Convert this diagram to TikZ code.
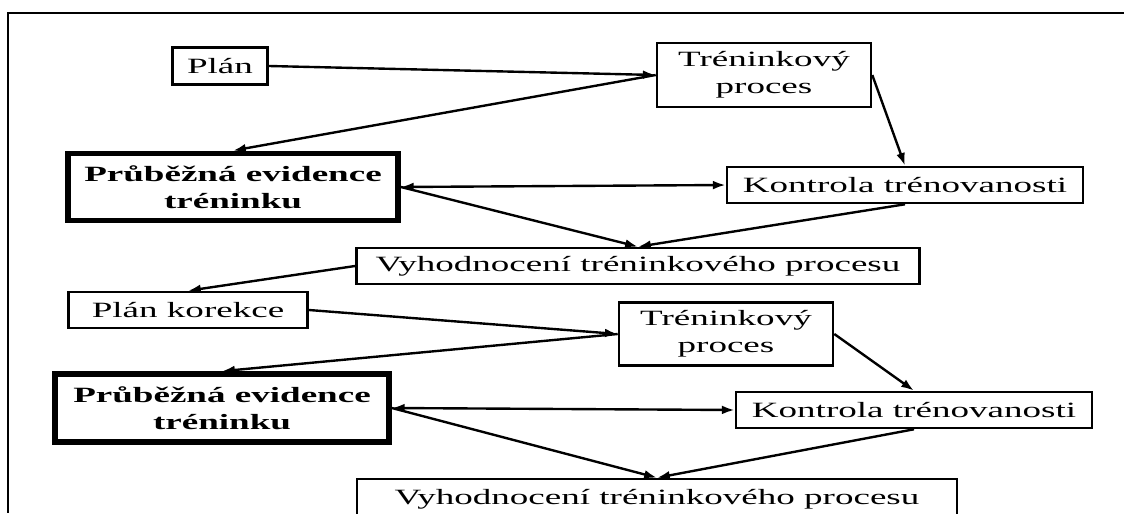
\documentclass[tikz,border=0pt]{standalone}
\usepackage{fontspec}
\setmainfont[FakeStretch=1.7]{Liberation Serif}
\usetikzlibrary{arrows.meta}

\begin{document}
\begin{tikzpicture}[x=0.025cm, y=-0.025cm,
  box/.style={draw, line width=1.8pt, fill=white, align=center, inner sep=2pt, font=\fontsize{15.5}{19}\selectfont},
  evbox/.style={box, line width=4pt, font=\fontsize{15.5}{19}\selectfont\bfseries},
  arr/.style={line width=1.7pt, -{Latex[length=0.32cm, width=0.22cm]}},
  dblarr/.style={line width=1.7pt, {Latex[length=0.32cm, width=0.22cm]}-{Latex[length=0.32cm, width=0.22cm]}}]
  \fill[white] (0,0) rectangle (1124,513);
  \useasboundingbox (0,0) rectangle (1124,513);
  \draw[line width=1.6pt] (1124,13) -- (8,13) -- (8,513);

  \node[box, minimum width=2.38cm, minimum height=0.93cm] (plan) at (220,66) {Plán};
  \node[box, minimum width=5.35cm, minimum height=1.6cm] (tp1) at (764,75) {Tréninkový\\proces};
  \node[evbox, minimum width=8.25cm, minimum height=1.68cm] (pe1) at (233,187) {Průběžná evidence\\tréninku};
  \node[box, minimum width=8.9cm, minimum height=0.9cm] (kt1) at (905,185) {Kontrola trénovanosti};
  \node[box, minimum width=14.08cm, minimum height=0.9cm] (vh1) at (638,266) {Vyhodnocení tréninkového procesu};

  \node[box, minimum width=5.98cm, minimum height=0.9cm] (pk) at (188,310) {Plán korekce};
  \node[box, minimum width=5.35cm, minimum height=1.58cm] (tp2) at (726,334) {Tréninkový\\proces};
  \node[evbox, minimum width=8.35cm, minimum height=1.7cm] (pe2) at (222,408) {Průběžná evidence\\tréninku};
  \node[box, minimum width=8.9cm, minimum height=0.9cm] (kt2) at (914,410) {Kontrola trénovanosti};
  \node[box, minimum width=15cm, minimum height=1cm] (vh2) at (657,499) {Vyhodnocení tréninkového procesu};

  \draw[arr] (plan.east) -- (tp1.west);
  \draw[arr] (tp1.west) -- (pe1.north);
  \draw[arr] (tp1.east) -- (kt1.north);
  \draw[dblarr] (pe1.east) -- (kt1.west);
  \draw[arr] (pe1.east) -- (vh1.north);
  \draw[arr] (kt1.south) -- (vh1.north);
  \draw[arr] (vh1.west) -- (pk.north);
  \draw[arr] (pk.east) -- (tp2.west);
  \draw[arr] (tp2.west) -- (pe2.north);
  \draw[arr] (tp2.east) -- (kt2.north);
  \draw[dblarr] (pe2.east) -- (kt2.west);
  \draw[arr] (pe2.east) -- (vh2.north);
  \draw[arr] (kt2.south) -- (vh2.north);
\end{tikzpicture}
\end{document}
